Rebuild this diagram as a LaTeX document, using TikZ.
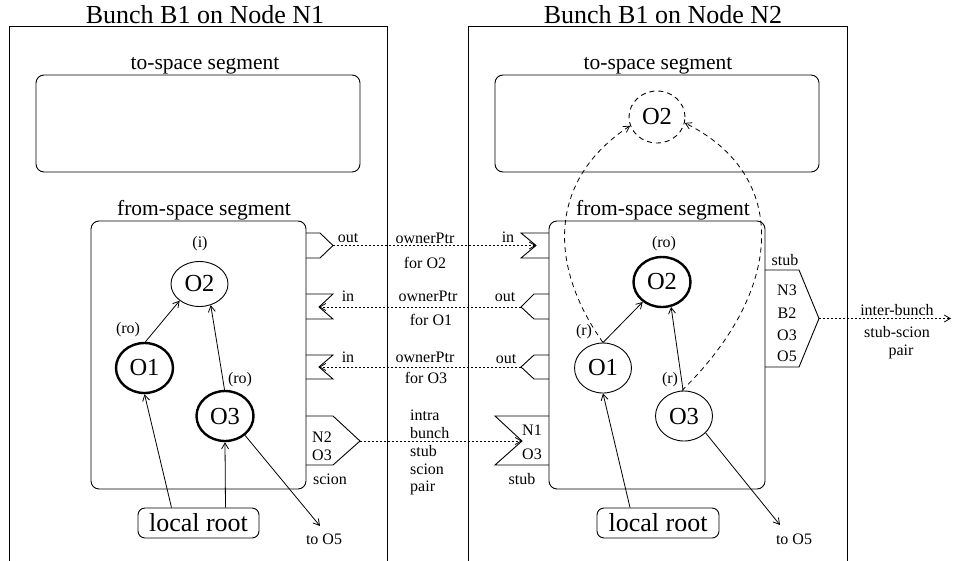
\documentclass[tikz,border=0pt]{standalone}
\usepackage{fontspec}
\setmainfont{Liberation Serif}
\usetikzlibrary{arrows.meta,shapes.geometric}
\begin{document}
\begin{tikzpicture}[x=1pt,y=-1pt,
  every node/.style={inner sep=0pt},
  ln/.style={line width=0.9pt},
  bigt/.style={font=\fontsize{26}{30}\selectfont},
  seg/.style={font=\fontsize{21.5}{25}\selectfont},
  sm/.style={font=\fontsize{16}{18}\selectfont},
  box/.style={draw, line width=0.9pt},
  segbox/.style={draw, line width=0.9pt, rounded corners=8pt},
  obj/.style={ellipse, draw, line width=0.9pt, minimum width=57pt, minimum height=50pt, font=\fontsize{24.5}{28}\selectfont},
  objb/.style={obj, line width=2.4pt},
  rootbox/.style={draw, line width=0.9pt, rounded corners=7pt, minimum height=30pt, font=\fontsize{26}{30}\selectfont},
  arr/.style={-{Straight Barb[length=6pt,width=7pt]}, line width=0.8pt},
  dotl/.style={dash pattern=on 2pt off 2pt, line width=0.8pt},
  dshl/.style={dash pattern=on 5pt off 4pt, line width=0.8pt},
  port/.style={line width=0.9pt}
]
\useasboundingbox (0,0) rectangle (955,560);

% big boxes
\node[box, minimum width=378pt, minimum height=545pt] (BL) at (198,298.5) {};
\node[box, minimum width=379pt, minimum height=545pt] (BR) at (657.5,298.5) {};
\node[bigt, anchor=base] (titleL) at (205,23) {Bunch B1 on Node N1};
\node[bigt, anchor=base] (titleR) at (663,23) {Bunch B1 on Node N2};

% segments
\node[segbox, minimum width=324pt, minimum height=97pt] (tsL) at (198,123.5) {};
\node[segbox, minimum width=215pt, minimum height=268pt] (fsL) at (198.5,355) {};
\node[segbox, minimum width=324pt, minimum height=97pt] (tsR) at (657,123.5) {};
\node[segbox, minimum width=216pt, minimum height=268pt] (fsR) at (657,355) {};
\node[seg, anchor=base] (tsLl) at (205,69) {to-space segment};
\node[seg, anchor=base] (fsLl) at (204,215) {from-space segment};
\node[seg, anchor=base] (tsRl) at (658,69) {to-space segment};
\node[seg, anchor=base] (fsRl) at (663,215) {from-space segment};

% left objects
\node[obj, minimum height=45pt] (O2L) at (199.5,284) {O2};
\node[objb] (O1L) at (144.5,368) {O1};
\node[objb] (O3L) at (225,416) {O3};
\node[sm] (iL) at (200,244) {(i)};
\node[sm] (ro1L) at (128,330) {(ro)};
\node[sm] (ro3L) at (240,380) {(ro)};
\node[rootbox, minimum width=121pt] (lrL) at (198.5,523) {local root};
\node[sm] (to5L) at (324,539) {to O5};
\coordinate (e5L) at (320,526);

% right objects
\node[objb] (O2R) at (662,282) {O2};
\node[obj] (O1R) at (603,368) {O1};
\node[obj] (O3R) at (684,416) {O3};
\node[obj, dash pattern=on 5pt off 4pt, minimum width=56pt, minimum height=52pt] (O2T) at (657,117) {O2};
\node[sm] (ro2R) at (664,244) {(ro)};
\node[sm] (r1R) at (584,332) {(r)};
\node[sm] (r3R) at (670,380) {(r)};
\node[rootbox, minimum width=122pt] (lrR) at (658,523) {local root};
\node[sm] (to5R) at (794,539) {to O5};
\coordinate (e5R) at (780,525);

% left arrows
\draw[arr] ([xshift=-27pt]lrL.north) -- (O1L.south);
\draw[arr] ([xshift=27pt]lrL.north) -- (O3L.south);
\draw[arr] (O1L.88) -- (O2L.220);
\draw[arr] (O3L.91) -- (O2L.298);
\draw[arr] (O3L.316) -- (e5L);

% right arrows
\draw[arr] ([xshift=-28pt]lrR.north) -- (O1R.south);
\draw[arr] (O1R.north) -- (O2R.226);
\draw[arr] (O3R.92) -- (O2R.290);
\draw[arr] (O3R.322) -- (e5R);
\draw[arr, dshl] (O1R.north) .. controls (548,265) and (548,180) .. (O2T.198);
\draw[arr, dshl] (O3R.95) .. controls (785,290) and (790,175) .. (O2T.348);

% ports row 1: out (left) -> in (right)
\coordinate (p1L) at (333,245.5);
\coordinate (p1R) at (536,245.5);
\draw[port] (306,233) -- (320,233) -- (p1L) -- (320,258) -- (306,258);
\draw[port] (549,233) -- (521,233) -- (p1R) -- (521,258) -- (549,258);
\draw[arr, dotl] (p1L) -- (p1R);
\node[sm] (out1L) at (348,238) {out};
\node[sm] (in1R) at (508,237) {in};
\node[sm] (own1) at (425,238) {ownerPtr};
\node[sm] (for1) at (425,263) {for O2};

% ports row 2: out (right) -> in (left)
\coordinate (p2L) at (319,307);
\coordinate (p2R) at (521,307);
\draw[port] (306,294) -- (333,294) -- (p2L) -- (333,319) -- (306,319);
\draw[port] (549,294) -- (534,294) -- (p2R) -- (534,319) -- (549,319);
\draw[arr, dotl] (p2R) -- (p2L);
\node[sm] (in2L) at (348,296) {in};
\node[sm] (out2R) at (505,297) {out};
\node[sm] (own2) at (428,296) {ownerPtr};
\node[sm] (for2) at (431,320) {for O1};

% ports row 3
\coordinate (p3L) at (319,367);
\coordinate (p3R) at (521,367);
\draw[port] (306,355) -- (333,355) -- (p3L) -- (333,379) -- (306,379);
\draw[port] (549,355) -- (534,355) -- (p3R) -- (534,379) -- (549,379);
\draw[arr, dotl] (p3R) -- (p3L);
\node[sm] (in3L) at (348,357) {in};
\node[sm] (out3R) at (506,359) {out};
\node[sm] (own3) at (425,357) {ownerPtr};
\node[sm] (for3) at (426,378) {for O3};

% scion / stub intra bunch
\coordinate (p4L) at (360,441);
\coordinate (p4R) at (522,441);
\draw[port] (306,416) -- (333,416) -- (p4L) -- (333,465) -- (306,465);
\draw[port] (549,416) -- (495,416) -- (p4R) -- (495,465) -- (549,465);
\draw[arr, dotl] (p4L) -- (p4R);
\node[sm] (n2) at (322,437) {N2};
\node[sm] (o3s) at (322,455) {O3};
\node[sm] (scion) at (330,479) {scion};
\node[sm] (n1) at (532,430) {N1};
\node[sm] (o3t) at (532,454) {O3};
\node[sm] (stubL) at (522,479) {stub};
\node[sm, anchor=west] (ib1) at (410,415) {intra};
\node[sm, anchor=west] (ib2) at (410,433) {bunch};
\node[sm, anchor=west] (ib3) at (410,451) {stub};
\node[sm, anchor=west] (ib4) at (410,469) {scion};
\node[sm, anchor=west] (ib5) at (410,488) {pair};

% inter-bunch stub
\coordinate (p5) at (819,318.5);
\coordinate (p5e) at (951,318.5);
\draw[port] (765,270) -- (799,270) -- (p5) -- (799,367) -- (765,367);
\draw[arr, dotl] (p5) -- (p5e);
\node[sm] (stubR) at (785,260) {stub};
\node[sm] (n3) at (787,290) {N3};
\node[sm] (b2) at (787,313) {B2};
\node[sm] (o3x) at (787,335) {O3};
\node[sm] (o5x) at (787,356) {O5};
\node[sm] (ib6) at (897,310) {inter-bunch};
\node[sm] (ib7) at (897,332) {stub-scion};
\node[sm] (ib8) at (901,352) {pair};
\end{tikzpicture}
\end{document}
